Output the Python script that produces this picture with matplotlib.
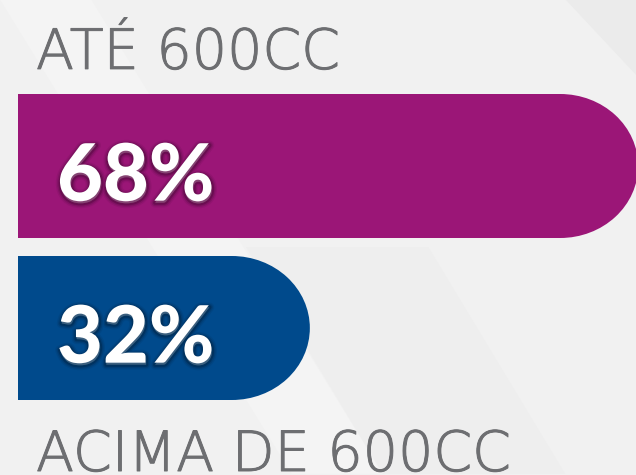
import matplotlib
matplotlib.use("Agg")
import matplotlib.pyplot as plt
import matplotlib.patheffects as pe
from matplotlib.patches import Rectangle, Ellipse, Polygon

categories = ["ATÉ 600CC", "ACIMA DE 600CC"]
shares = [68, 32]
colors = ["#9b1677", "#004a8c"]

fig = plt.figure(figsize=(6.36, 4.75), dpi=100)
fig.patch.set_facecolor("#f1f1f1")
ax = fig.add_axes([0, 0, 1, 1])
ax.set_facecolor("#f1f1f1")

# pixel -> data: x 18px is zero, ~9.12px per percent; bar centres 162px apart
px = 9.12
ax.set_xlim(-18 / px, (636 - 18) / px)
ax.set_ylim(1 + (475 - 328) / 162, -166 / 162)
ax.axis("off")

# faint background shapes
bg = [
    [(-2, -1.03), (8, -1.03), (40, 1.9), (30, 1.9)],
    [(60, -1.03), (68, -1.03), (68, -0.55)],
    [(25, 0.5), (45, 0.5), (60, 1.9), (40, 1.9)],
]
for pts, c in zip(bg, ["#f4f4f4", "#ebebeb", "#eeeeee"]):
    ax.add_patch(Polygon(pts, closed=True, facecolor=c, edgecolor="none", zorder=0))

# soft dark glow behind the white numbers
shadow = [
    pe.Stroke(linewidth=7, foreground="#000000", alpha=0.06, offset=(0.5, -1.5)),
    pe.Stroke(linewidth=5, foreground="#000000", alpha=0.10, offset=(0.5, -1.5)),
    pe.Stroke(linewidth=3, foreground="#000000", alpha=0.18, offset=(0.5, -1.5)),
    pe.Normal(),
]
thin = [pe.withStroke(linewidth=0.7, foreground="#6d6e71")]

h = 144 / 162
rx = 78 / px
for i, (v, c) in enumerate(zip(shares, colors)):
    ax.add_patch(Rectangle((0, i - h / 2), v - rx, h, facecolor=c, edgecolor="none", zorder=2))
    ax.add_patch(Ellipse((v - rx, i), 2 * rx, h, facecolor=c, edgecolor="none", zorder=2))
    ax.text(39 / px, i + 0.075, f"{v}%", color="white", fontsize=57,
            family="Lato", weight="black", va="center", ha="left", zorder=3,
            path_effects=shadow)

ax.text(18 / px, -0.445 - 25 / 162, categories[0], color="#6d6e71", fontsize=40,
        family="DejaVu Sans", weight=200, va="baseline", ha="left", path_effects=thin)
ax.text(18 / px, 1 + (471 - 328) / 162, categories[1], color="#6d6e71", fontsize=40,
        family="DejaVu Sans", weight=200, va="baseline", ha="left", path_effects=thin)

fig.savefig("out.png", dpi=100, facecolor=fig.get_facecolor())
